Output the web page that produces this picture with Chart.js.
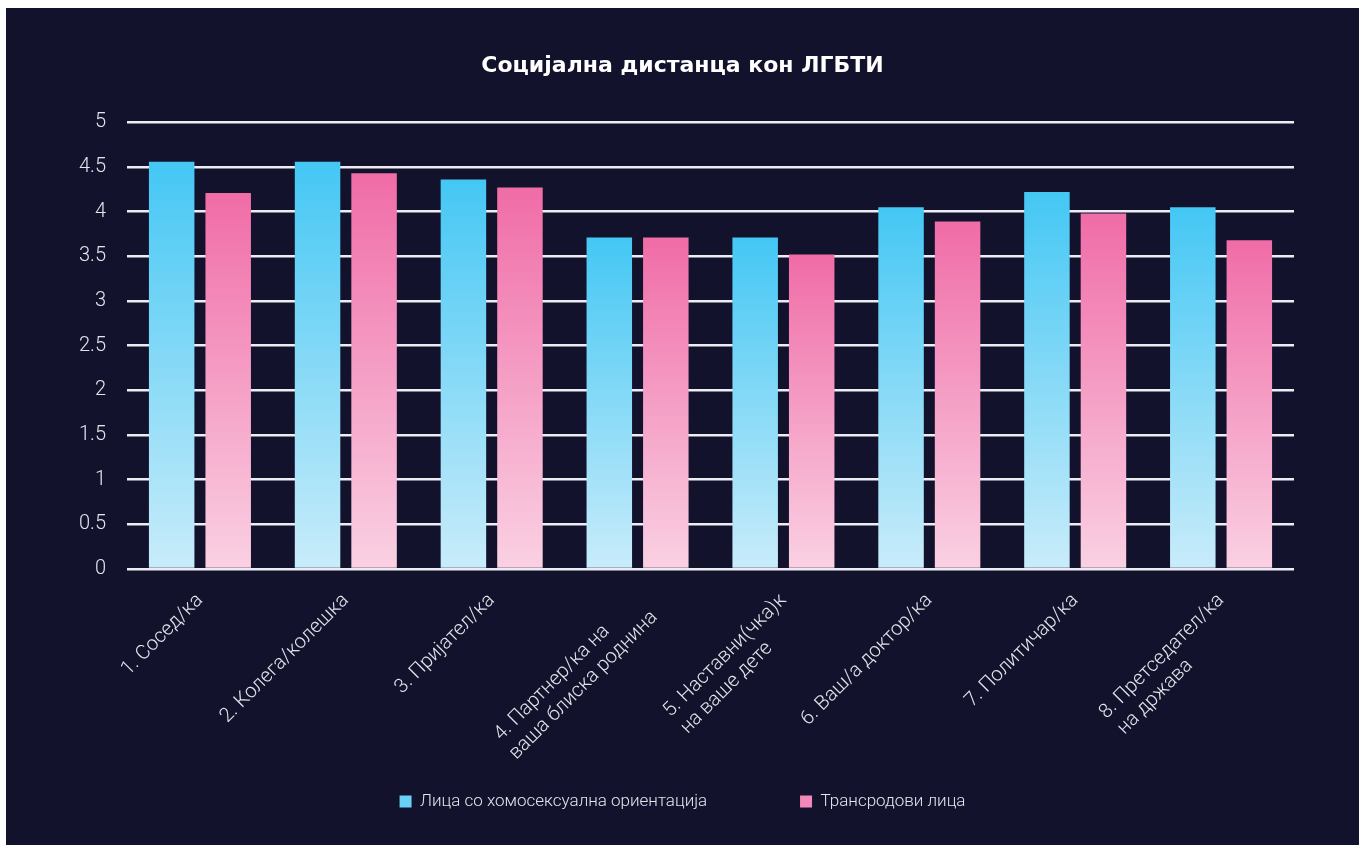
<!DOCTYPE html>
<html>
<head>
<meta charset="utf-8">
<script src="https://cdn.jsdelivr.net/npm/chart.js@4/dist/chart.umd.min.js"></script>
<style>
  html, body { margin: 0; padding: 0; background: #ffffff; }
  #wrap { position: absolute; left: 6px; top: 8px; width: 1353px; height: 837px; background: #12122d; }
</style>
</head>
<body>
<div id="wrap"><canvas id="chartDistance" width="1353" height="837"></canvas></div>
<script>
const categories = [
    '1. Сосед/ка',
    '2. Колега/колешка',
    '3. Пријател/ка',
    ['4. Партнер/ка на', 'ваша блиска роднина'],
    ['5. Наставни(чка)к', 'на ваше дете'],
    '6. Ваш/а доктор/ка',
    '7. Политичар/ка',
    ['8. Претседател/ка', 'на држава']
]
const seriesNames = ['Лица со хомосексуална ориентација', 'Трансродови лица']
const homoValues = [4.56, 4.56, 4.36, 3.71, 3.71, 4.05, 4.22, 4.05]
const transValues = [4.21, 4.43, 4.27, 3.71, 3.52, 3.89, 3.98, 3.68]
const yTicks = [0, 0.5, 1, 1.5, 2, 2.5, 3, 3.5, 4, 4.5, 5]

const textColor = '#e4e4ec'
const legendColors = ['#69d0f6', '#f288b9']
const labelFont = { family: 'Roboto', size: 20, weight: '300' }

// rotated labels are right aligned by chart.js, pad short lines so they read left aligned
var measureCtx = document.createElement('canvas').getContext('2d');
measureCtx.font = labelFont.weight + ' ' + labelFont.size + 'px ' + labelFont.family;
function padLines(label) {
    if (!Array.isArray(label)) return label;
    var widest = Math.max.apply(null, label.map(function (l) { return measureCtx.measureText(l).width; }));
    return label.map(function (l) {
        while (measureCtx.measureText(l + '\u00a0').width <= widest + 1) l += '\u00a0';
        return l;
    });
}

function barGradient(top, bottom, legendColor) {
    return function (c) {
        var chart = c.chart;
        if (c.type !== 'data' || !chart.chartArea) return legendColor;
        var y0 = chart.scales.y.getPixelForValue(c.raw);
        var y1 = chart.scales.y.getPixelForValue(0);
        var g = chart.ctx.createLinearGradient(0, y0, 0, y1);
        g.addColorStop(0, top);
        g.addColorStop(1, bottom);
        return g;
    };
}

var ctxDistance = document.getElementById('chartDistance').getContext('2d');
var chartDistance = new Chart(ctxDistance, {
    type: 'bar',
    data: {
        labels: categories.map(padLines),
        datasets: [{
            label: seriesNames[0],
            data: homoValues,
            backgroundColor: barGradient('#44c7f4', '#c9ecfa', legendColors[0]),
            barPercentage: 0.805,
            categoryPercentage: 0.775
        }, {
            label: seriesNames[1],
            data: transValues,
            backgroundColor: barGradient('#f06ca7', '#fad1e3', legendColors[1]),
            barPercentage: 0.805,
            categoryPercentage: 0.775
        }]
    },
    options: {
        responsive: false,
        animation: false,
        layout: { padding: { left: 0, right: 0, top: 0, bottom: 25 } },
        plugins: {
            title: {
                display: true,
                text: 'Социјална дистанца кон ЛГБТИ',
                color: '#ffffff',
                font: { family: 'DejaVu Sans', size: 22, weight: 'bold' },
                padding: { top: 45, bottom: 43 }
            },
            legend: {
                position: 'bottom',
                labels: {
                    color: textColor,
                    font: { family: 'Roboto', size: 17, weight: '300' },
                    boxWidth: 12,
                    boxHeight: 12,
                    padding: 10,
                    generateLabels: function (chart) {
                        var items = Chart.defaults.plugins.legend.labels.generateLabels(chart);
                        items.forEach(function (it, i) {
                            it.lineWidth = 0;
                            it.fillStyle = legendColors[i];
                            if (i < items.length - 1) it.text += '\u00a0'.repeat(20);
                        });
                        return items;
                    }
                }
            },
            tooltip: { enabled: false }
        },
        scales: {
            x: {
                grid: { display: false },
                border: { display: false },
                ticks: {
                    color: textColor,
                    font: labelFont,
                    minRotation: 45,
                    maxRotation: 45,
                    autoSkip: false,
                    padding: 12
                },
                afterFit: function (scale) { scale.height = 214; }
            },
            y: {
                min: 0,
                max: 5,
                afterBuildTicks: function (scale) { scale.ticks = yTicks.map(function (v) { return { value: v }; }); },
                grid: { color: '#ececf2', lineWidth: 2.5, drawTicks: false },
                border: { display: false },
                ticks: {
                    color: textColor,
                    font: { family: 'Roboto', size: 20, weight: '300' },
                    padding: 21,
                    callback: function (v) { return String(v); }
                },
                afterFit: function (scale) { scale.width = 121; }
            },
            // empty right axis, only keeps the right margin so title and legend stay centred
            yRight: {
                position: 'right',
                grid: { display: false },
                border: { display: false },
                ticks: { display: false },
                afterFit: function (scale) { scale.width = 65; }
            }
        }
    }
});
</script>
</body>
</html>
